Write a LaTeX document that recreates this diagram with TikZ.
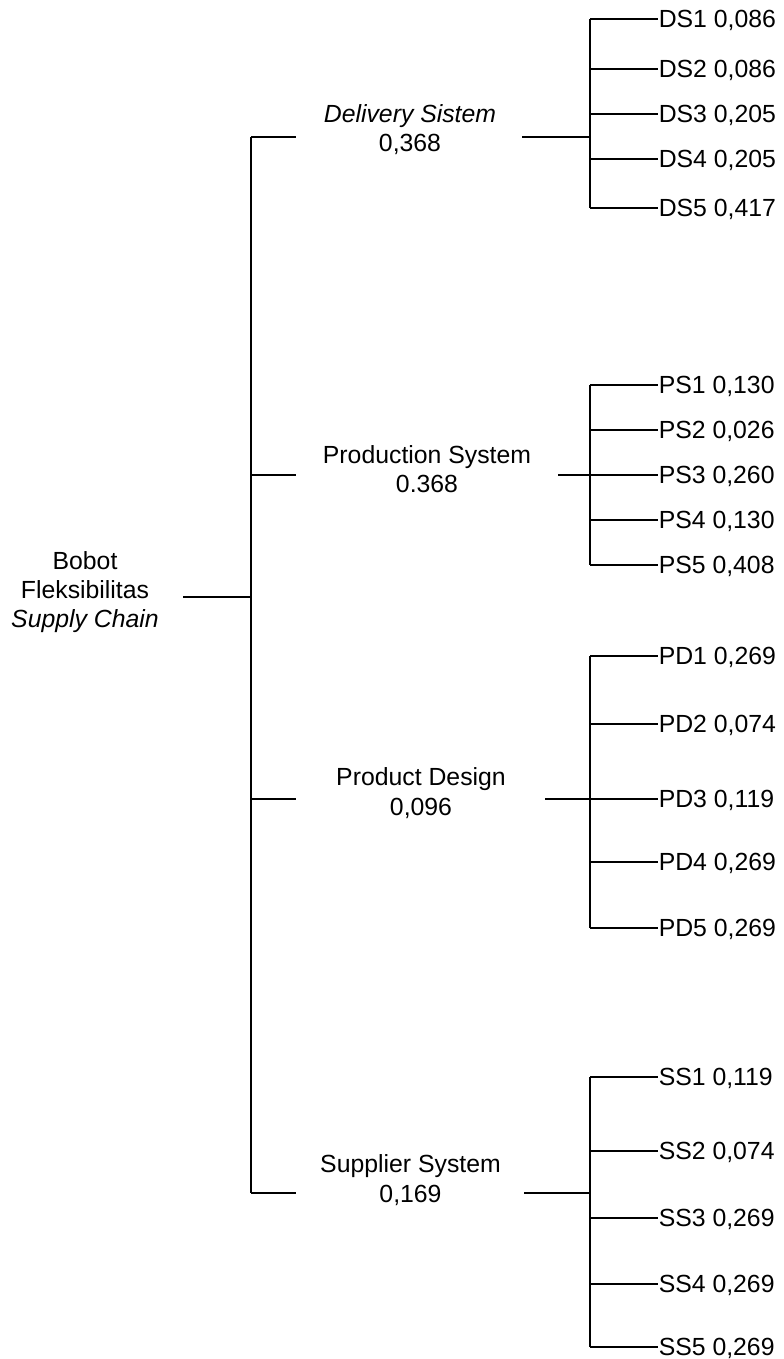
\documentclass[tikz,border=0pt]{standalone}
\usepackage{fontspec}
\setmainfont{Liberation Sans}
\begin{document}
\begin{tikzpicture}[x=0.5pt,y=-0.5pt, line width=0.75pt,
  lbl/.style={font=\fontsize{12.4}{14.6}\selectfont, align=center, inner sep=0pt},
  leaf/.style={font=\fontsize{12.4}{14.6}\selectfont, anchor=west, inner sep=0pt, text height=8.9pt, text depth=0pt}]
\useasboundingbox (0,0) rectangle (783,1359);

% root
\node[lbl] (root) at (85,592) {Bobot\\Fleksibilitas\\\textit{Supply Chain}};
\coordinate (rootR) at (183,597);
\coordinate (J) at (251,597);
\draw (rootR) -- (J);

% main criteria
\node[lbl] (ds) at (410,130) {\textit{Delivery Sistem}\\0,368};
\node[lbl] (ps) at (427,469) {Production System\\0.368};
\node[lbl] (pd) at (421,793) {Product Design\\0,096};
\node[lbl] (ss) at (410.5,1180) {Supplier System\\0,169};

\foreach \m/\y/\r in {ds/137/522, ps/475/558, pd/799/545, ss/1193/524}{
  \coordinate (\m J) at (251,\y);
  \coordinate (\m L) at (296,\y);
  \coordinate (\m R) at (\r,\y);
  \coordinate (\m B) at (590,\y);
  \draw (\m J) -- (\m L);
  \draw (\m R) -- (\m B);
}
\draw (dsJ) -- (ssJ);

% leaves
\foreach \n/\y/\t in {
  ds1/19/{DS1 0,086}, ds2/69/{DS2 0,086}, ds3/114/{DS3 0,205}, ds4/159/{DS4 0,205}, ds5/208/{DS5 0,417},
  ps1/385/{PS1 0,130}, ps2/430/{PS2 0,026}, ps3/475/{PS3 0,260}, ps4/520/{PS4 0,130}, ps5/565/{PS5 0,408},
  pd1/656/{PD1 0,269}, pd2/724/{PD2 0,074}, pd3/799/{PD3 0,119}, pd4/862/{PD4 0,269}, pd5/928/{PD5 0,269},
  ss1/1077/{SS1 0,119}, ss2/1151/{SS2 0,074}, ss3/1218/{SS3 0,269}, ss4/1284/{SS4 0,269}, ss5/1347/{SS5 0,269}}{
  \node[leaf] (\n) at (658,\y) {\t};
  \coordinate (\n b) at (590,\y);
  \draw (\n b) -- (\n.west);
}
\draw (ds1b) -- (ds5b);
\draw (ps1b) -- (ps5b);
\draw (pd1b) -- (pd5b);
\draw (ss1b) -- (ss5b);
\end{tikzpicture}
\end{document}
